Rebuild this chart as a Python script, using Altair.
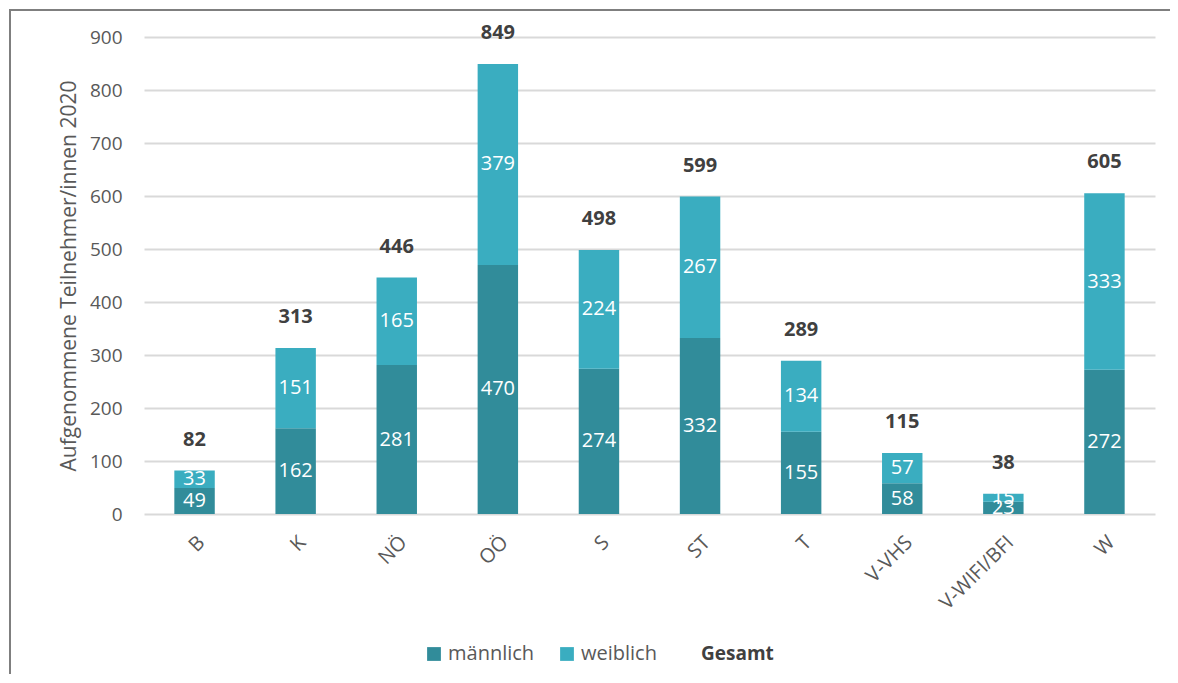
import altair as alt
import pandas as pd

categories = ["B", "K", "NÖ", "OÖ", "S", "ST", "T", "V-VHS", "V-WIFI/BFI", "W"]
maennlich = [49, 162, 281, 470, 274, 332, 155, 58, 23, 272]
weiblich = [33, 151, 165, 379, 224, 267, 134, 57, 15, 333]
gesamt = [82, 313, 446, 849, 498, 599, 289, 115, 38, 605]
series = ["männlich", "weiblich"]
colors = ["#318c9a", "#3aadc0"]

rows = []
for c, m, w in zip(categories, maennlich, weiblich):
    rows.append({"cat": c, "serie": series[0], "val": m, "lo": 0, "hi": m, "mid": m / 2, "ord": 0})
    rows.append({"cat": c, "serie": series[1], "val": w, "lo": m, "hi": m + w, "mid": m + w / 2, "ord": 1})
df = pd.DataFrame(rows)
tot = pd.DataFrame({"cat": categories, "tot": gesamt})

font = "Open Sans"
x = alt.X("cat:N", sort=categories, title=None,
          scale=alt.Scale(paddingInner=0.6, paddingOuter=0.3),
          axis=alt.Axis(labelAngle=-45, labelFontSize=20, labelColor="#595959",
                        labelFont=font, ticks=False, domain=False, labelPadding=18))

bars = alt.Chart(df).mark_bar().encode(
    x=x,
    y=alt.Y("lo:Q", title="Aufgenommene Teilnehmer/innen 2020",
            scale=alt.Scale(domain=[0, 900], nice=False),
            axis=alt.Axis(values=list(range(0, 1000, 100)), labelFontSize=19,
                          labelColor="#595959", labelFont=font, titleFont=font,
                          titleFontSize=21, titleColor="#595959", titleFontWeight="normal",
                          domain=False, ticks=False, gridColor="#d9d9d9", gridWidth=2,
                          labelPadding=22, titlePadding=10)),
    y2="hi:Q",
    color=alt.Color("serie:N", scale=alt.Scale(domain=series, range=colors),
                    legend=alt.Legend(title="Gesamt", titleOrient="right", orient="none",
                                      direction="horizontal", legendX=280, legendY=607,
                                      labelFontSize=20, labelColor="#595959", labelFont=font,
                                      titleFont=font, titleFontSize=19, titleColor="#404040",
                                      titleFontWeight="bold", symbolType="square",
                                      symbolSize=190, symbolStrokeWidth=0, columnPadding=22,
                                      titlePadding=44, labelOffset=4)),
    order="ord:Q",
)

labels = alt.Chart(df).mark_text(color="white", fontSize=20, font=font, baseline="middle").encode(
    x=alt.X("cat:N", sort=categories),
    y=alt.Y("mid:Q"),
    text="val:Q",
)

totals = alt.Chart(tot).mark_text(color="#404040", fontSize=20, font=font, fontWeight="bold",
                                  baseline="middle", dy=-31).encode(
    x=alt.X("cat:N", sort=categories),
    y=alt.Y("tot:Q"),
    text="tot:Q",
)

frame = alt.Chart(tot).mark_rect(fill=None, stroke="#7f7f7f", strokeWidth=2).encode(
    x=alt.value(-134), x2=alt.value(1028), y=alt.value(-27), y2=alt.value(700)
)

chart = alt.layer(bars, labels, totals, frame).properties(
    width=1011, height=477,
    padding={"left": 136, "top": 29, "right": 15, "bottom": 160},
    autosize=alt.AutoSizeParams(type="none"),
).configure_view(stroke=None)

chart.save("out.html", embed_options={"renderer": "svg", "actions": False})
